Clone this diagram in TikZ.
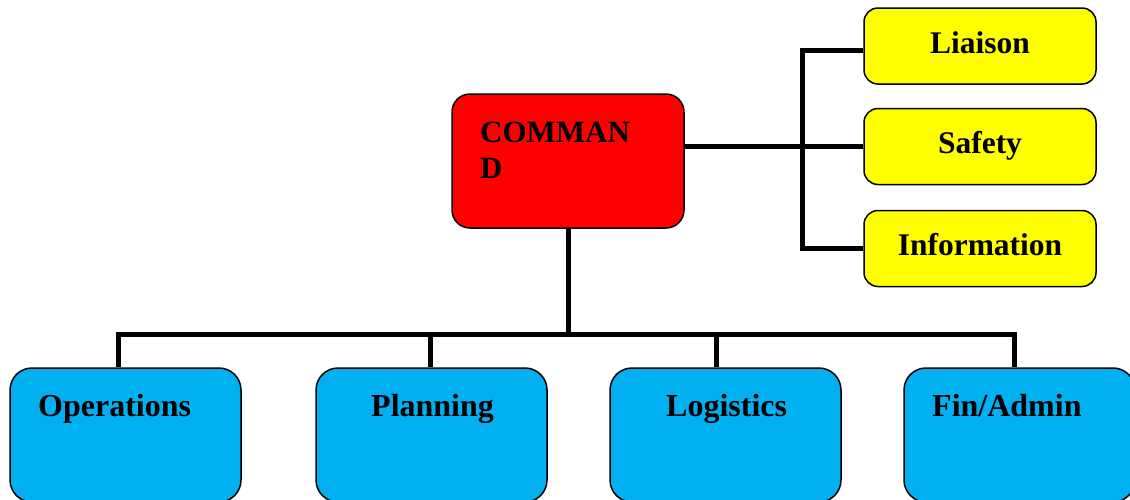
\documentclass[tikz,border=0pt]{standalone}
\usepackage{fontspec}
\setmainfont{Liberation Serif}
\definecolor{cmdred}{HTML}{FF0000}
\definecolor{stfyel}{HTML}{FFFF00}
\definecolor{secblue}{HTML}{00B0F0}
\begin{document}
\begin{tikzpicture}[x=1pt,y=-1pt,
  box/.style={draw=black,line width=1.5pt,rounded corners=18pt,inner sep=0pt},
  cmdbox/.style={box,fill=cmdred,minimum width=232pt,minimum height=134pt},
  ybox/.style={box,fill=stfyel,minimum width=232pt,minimum height=76pt,rounded corners=14pt,
     font=\fontsize{31.5}{36}\selectfont\bfseries,text height=21pt,text depth=7pt},
  bbox/.style={box,fill=secblue,minimum width=231pt,minimum height=134pt,rounded corners=22pt},
  lbl/.style={anchor=base west,inner sep=0pt,font=\fontsize{32}{36}\selectfont\bfseries},
  conn/.style={line width=5pt}]
\useasboundingbox (0,0) rectangle (1130,499);
% command
\node[cmdbox] (cmd) at (568,161) {};
\node[anchor=north west,inner sep=0pt,align=left,font=\fontsize{31}{36}\selectfont\bfseries] (cmdtxt) at (480,121.5) {COMMAN\\D};
% staff
\node[ybox] (liaison) at (980,46) {Liaison};
\node[ybox] (safety) at (980,146.5) {Safety};
\node[ybox] (info) at (980,248.5) {Information};
% sections
\node[bbox] (ops) at (125.5,435) {};
\node[bbox] (plan) at (431.5,435) {};
\node[bbox] (logi) at (725.5,435) {};
\node[bbox] (fin) at (1019.5,435) {};
\node[lbl] (opst) at (38,416) {Operations};
\node[lbl] (plant) at (371,416) {Planning};
\node[lbl] (logit) at (666,416) {Logistics};
\node[lbl] (fint) at (932,416) {Fin/Admin};
% connectors right
\coordinate (rj) at (802,146.5);
\draw[conn] (cmd.east |- rj) -- (safety.west);
\draw[conn] ([yshift=-4pt]liaison.west) -| (rj) |- (info.west);
% connectors bottom
\coordinate (bus) at (568,334);
\draw[conn] (cmd.south) -- (bus);
\draw[conn] ([xshift=-7.5pt]ops.north) |- (bus) -| ([xshift=-5.5pt]fin.north);
\draw[conn] ([xshift=-1.5pt]plan.north) -- ([xshift=-1.5pt]plan.north |- bus);
\draw[conn] ([xshift=-9.5pt]logi.north) -- ([xshift=-9.5pt]logi.north |- bus);
\end{tikzpicture}
\end{document}
